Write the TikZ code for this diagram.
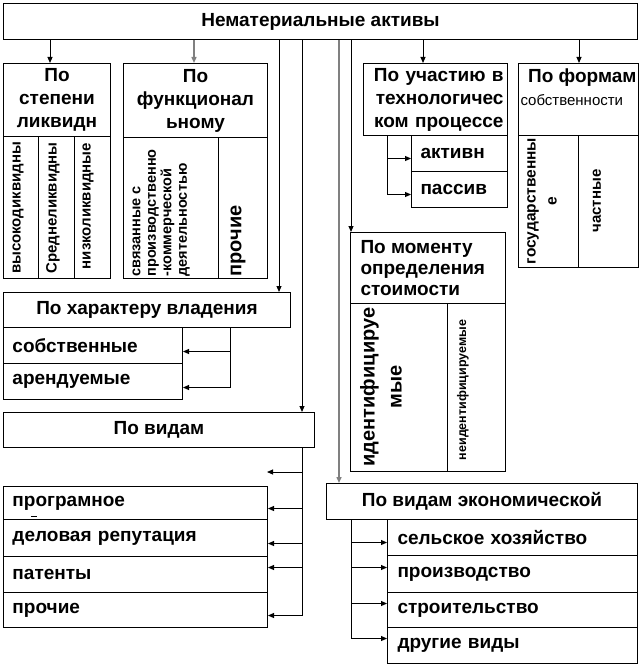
\documentclass[tikz,border=0pt]{standalone}
\usepackage{fontspec}
\setmainfont{Liberation Sans}
\usetikzlibrary{arrows.meta}

\begin{document}
\begin{tikzpicture}[
	x=1pt, y=-1pt,
	line width=1pt,
	box/.style={draw, anchor=north west, inner sep=0pt, align=center,
		font=\fontsize{19}{23}\selectfont\bfseries},
	item/.style={draw, anchor=north west, inner xsep=9pt, inner ysep=0pt,
		align=left, font=\fontsize{19}{23}\selectfont\bfseries},
	vert/.style={rotate=90, inner sep=0pt, font=\fontsize{15}{18}\selectfont\bfseries},
	link/.style={-{Triangle[length=6pt,width=5pt]}},
	pale/.style={draw=gray, line width=1.4pt},
	]
	\useasboundingbox (0,0) rectangle (642,666);

	% Title
	\node[box, minimum width=634pt, minimum height=36pt] (title) at (3,3) {Нематериальные активы};

	% By liquidity
	\node[box, minimum width=107pt, minimum height=73pt] (deg) at (3,63) {По\\степени\\ликвидн};
	\node[box, minimum width=35pt, minimum height=142pt] (deg1) at (3,136) {};
	\node[box, minimum width=36pt, minimum height=142pt] (deg2) at (38,136) {};
	\node[box, minimum width=36pt, minimum height=142pt] (deg3) at (74,136) {};
	\node[vert] (d1) at (18,208) {высокодиквидны};
	\node[vert] (d2) at (53,208) {Среднеликвидны};
	\node[vert] (d3) at (88,206) {низколиквидные};

	% By function
	\node[box, minimum width=144pt, minimum height=74pt] (fun) at (123,63) {По\\функционал\\ьному};
	\node[box, minimum width=95pt, minimum height=141pt] (fun1) at (123,137) {};
	\node[box, minimum width=49pt, minimum height=141pt] (fun2) at (218,137) {};
	\node[vert, anchor=north west, align=left, font=\fontsize{14.5}{15.5}\selectfont\bfseries] (f1) at (132,277)
		{связанные с\\производственно\\-коммерческой\\деятельностью};
	\node[vert, anchor=west, font=\fontsize{20}{23}\selectfont\bfseries] (f2) at (238,277) {прочие};

	% By role in the process
	\node[box, minimum width=144pt, minimum height=72pt, align=right, text width=136pt, inner xsep=4pt] (part) at (363,63)
		{По участию в\\технологичес\\ком процессе};
	\node[item, text width=78pt, minimum height=36pt] (act) at (411,135) {активн};
	\node[item, text width=78pt, minimum height=36pt] (pas) at (411,171) {пассив};

	% By form of ownership
	\node[box, minimum width=120pt, minimum height=72pt] (own) at (518,63) {};
	\node[anchor=east, inner sep=0pt, font=\fontsize{19}{23}\selectfont\bfseries] (ownA) at (637,78) {По формам};
	\node[anchor=west, inner sep=0pt, font=\fontsize{15}{18}\selectfont] (ownB) at (520,100) {собственности};
	\node[box, minimum width=60pt, minimum height=132pt] (own1) at (518,135) {};
	\node[box, minimum width=60pt, minimum height=132pt] (own2) at (578,135) {};
	\node[vert, align=center, font=\fontsize{15.5}{21}\selectfont\bfseries] (o1) at (542,201) {государственны\\е};
	\node[vert] (o2) at (597,201) {частные};

	% By moment of valuation
	\node[box, minimum width=155pt, minimum height=71pt] (mom) at (350,232) {};
	\node[anchor=west, inner sep=0pt, align=left, font=\fontsize{19}{21}\selectfont\bfseries] (momA) at (360,268)
		{По моменту\\определения\\стоимости};
	\node[box, minimum width=97pt, minimum height=168pt] (mom1) at (350,303) {};
	\node[box, minimum width=58pt, minimum height=168pt] (mom2) at (447,303) {};
	\node[vert, align=center, font=\fontsize{20}{27}\selectfont\bfseries] (m1) at (381,387) {идентифицируе\\мые};
	\node[vert, font=\fontsize{12.5}{15}\selectfont\bfseries] (m2) at (463,390) {неидентифицируемые};

	% By tenure
	\node[box, minimum width=287pt, minimum height=35pt] (ten) at (3,292) {По характеру владения};
	\node[item, text width=161pt, minimum height=36pt] (ten1) at (3,327) {собственные};
	\node[item, text width=161pt, minimum height=36pt] (ten2) at (3,363) {арендуемые};

	% By kind
	\node[box, minimum width=311pt, minimum height=35pt] (kin) at (3,412) {По видам};
	\node[item, text width=246pt, minimum height=33pt] (k1) at (3,486) {програмное};
	\node[item, text width=246pt, minimum height=37pt] (k2) at (3,519) {деловая репутация};
	\node[item, text width=246pt, minimum height=36pt] (k3) at (3,556) {патенты};
	\node[item, text width=246pt, minimum height=35pt] (k4) at (3,592) {прочие};
	\draw (31,516) -- (37,516);

	% By economic activity
	\node[box, minimum width=311pt, minimum height=36pt] (eco) at (326,483) {По видам экономической};
	\node[item, inner xsep=10pt, text width=230pt, minimum height=36pt] (e1) at (387,519) {сельское хозяйство};
	\node[item, inner xsep=10pt, text width=230pt, minimum height=37pt] (e2) at (387,555) {производство};
	\node[item, inner xsep=10pt, text width=230pt, minimum height=35pt] (e3) at (387,592) {строительство};
	\node[item, inner xsep=10pt, text width=230pt, minimum height=36pt] (e4) at (387,627) {другие виды};

	% Lines from the title
	\coordinate (s1) at (50,0);
	\coordinate (s2) at (194,0);
	\coordinate (s3) at (279,0);
	\coordinate (s4) at (302,0);
	\coordinate (s5) at (339,0);
	\coordinate (s6) at (351,0);
	\coordinate (s7) at (423,0);
	\coordinate (s8) at (579,0);
	\draw[link] (title.south -| s1) -- (s1 |- deg.north);
	\draw[link, pale] (title.south -| s2) -- (s2 |- fun.north);
	\draw[link] (title.south -| s3) -- (s3 |- ten.north);
	\draw[link] (title.south -| s4) -- (s4 |- kin.north);
	\draw[link, pale] (title.south -| s5) -- (s5 |- eco.north);
	\draw[link] (title.south -| s6) -- (s6 |- mom.north);
	\draw[link] (title.south -| s7) -- (s7 |- part.north);
	\draw[link] (title.south -| s8) -- (s8 |- own.north);

	% Branches
	\coordinate (q1) at (387,0);
	\draw[link] (part.south -| q1) |- ([yshift=-5pt]act.west);
	\draw[link] (part.south -| q1) |- ([yshift=-5pt]pas.west);

	\coordinate (q2) at (230,0);
	\draw[link] (ten.south -| q2) |- ([yshift=-6pt]ten1.east);
	\draw[link] (ten.south -| q2) |- ([yshift=-6pt]ten2.east);

	\coordinate (free) at (267,472);
	\draw[link] (kin.south -| s4) |- (free);
	\draw[link] (kin.south -| s4) |- ([yshift=-5.5pt]k1.east);
	\draw[link] (kin.south -| s4) |- ([yshift=-5.5pt]k2.east);
	\draw[link] (kin.south -| s4) |- ([yshift=7pt]k3.east);
	\draw[link] (kin.south -| s4) |- ([yshift=-5.5pt]k4.east);

	\coordinate (q3) at (351,0);
	\draw[link] (eco.south -| q3) |- ([yshift=-5pt]e1.west);
	\draw[link] (eco.south -| q3) |- ([yshift=6.5pt]e2.west);
	\draw[link] (eco.south -| q3) |- ([yshift=6.5pt]e3.west);
	\draw[link] (eco.south -| q3) |- ([yshift=7pt]e4.west);
\end{tikzpicture}
\end{document}
